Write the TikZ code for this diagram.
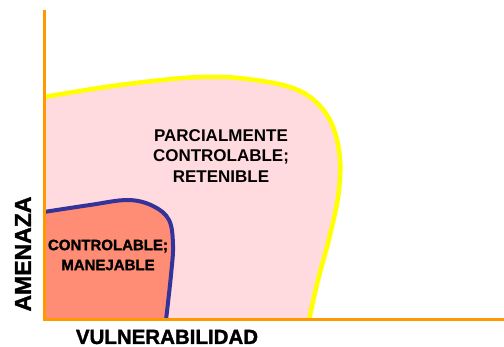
\documentclass[tikz,border=0pt]{standalone}
\usepackage{fontspec}
\setmainfont{Liberation Sans}
\newfontfamily\heavyfont[FakeBold=1.5]{Liberation Sans Bold}
\definecolor{axisorange}{HTML}{FF9900}
\definecolor{bigfill}{HTML}{FFDADF}
\definecolor{smallfill}{HTML}{FF8D75}
\definecolor{curveyellow}{HTML}{FFFF00}
\definecolor{curveblue}{HTML}{333399}
\tikzset{
  axisline/.style={axisorange, line width=3pt},
  zonelabel/.style={align=center, inner sep=0pt},
}
\begin{document}
\begin{tikzpicture}[x=1pt,y=-1pt]
\useasboundingbox (0,0) rectangle (504,347);
\fill[white] (0,0) rectangle (504,347);
% big region
\fill[bigfill] (44,320) -- (44,97)
  -- plot[smooth, tension=0.6] coordinates {(44,97) (120,85) (200,77) (255,80) (300,91) (327,115) (339,150) (339,190) (330,235) (318,280) (309,320)}
  -- cycle;
% small region
\fill[smallfill] (44,320) -- (44,212)
  -- plot[smooth, tension=0.6] coordinates {(44,212) (90,205) (128,200) (153,206) (169,220) (173,245) (171,275) (166,320)}
  -- cycle;
\draw[curveyellow, line width=4.5pt]
  plot[smooth, tension=0.6] coordinates {(44,97) (120,85) (200,77) (255,80) (300,91) (327,115) (339,150) (339,190) (330,235) (318,280) (309,320)};
\draw[curveblue, line width=4pt]
  plot[smooth, tension=0.6] coordinates {(44,212) (90,205) (128,200) (153,206) (169,220) (173,245) (171,275) (166,320)};
% axes
\coordinate (origin) at (44,320);
\coordinate (ytop) at (44,10);
\coordinate (xend) at (504,320);
\draw[axisline] (ytop) -- (origin) -- (xend);
% labels
\node[zonelabel, font=\fontsize{17}{20.5}\selectfont\bfseries] (big) at (221,156) {PARCIALMENTE\\CONTROLABLE;\\RETENIBLE};
\node[zonelabel, font=\fontsize{15}{20}\heavyfont] (small) at (108,255) {CONTROLABLE;\\MANEJABLE};
\node[zonelabel, font=\fontsize{23}{24}\heavyfont, rotate=90] (ylab) at (23,254) {AMENAZA};
\node[zonelabel, font=\fontsize{20.5}{24}\heavyfont] (xlab) at (167,337) {VULNERABILIDAD};
\end{tikzpicture}
\end{document}
